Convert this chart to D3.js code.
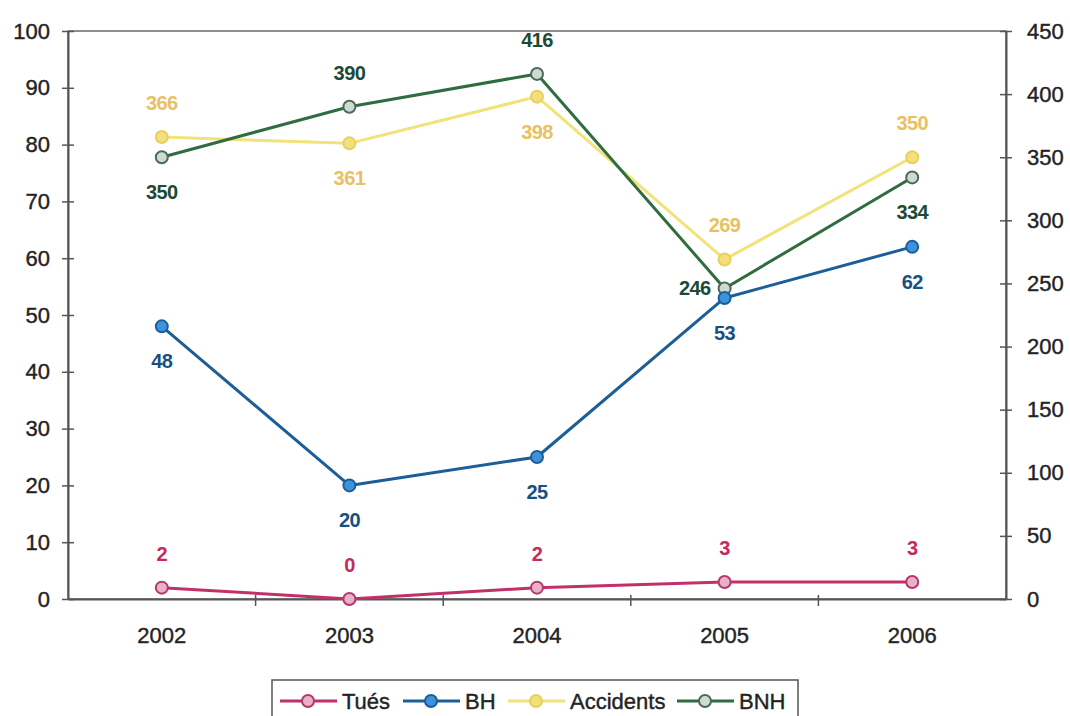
<!DOCTYPE html>
<html>
<head>
<meta charset="utf-8">
<script src="https://cdn.jsdelivr.net/npm/d3@7"></script>
<style>
  html, body { margin: 0; padding: 0; background: #fff; }
  svg { display: block; font-family: "Liberation Sans", Arial, sans-serif; }
</style>
</head>
<body>
<svg id="chart" width="1070" height="716"></svg>
<script>
// Yearly figures
const years = ["2002", "2003", "2004", "2005", "2006"];
const tues = [2, 0, 2, 3, 3];               // left axis
const bh = [48, 20, 25, 53, 62];            // left axis
const accidents = [366, 361, 398, 269, 350]; // right axis
const bnh = [350, 390, 416, 246, 334];       // right axis

const leftTicks = [0, 10, 20, 30, 40, 50, 60, 70, 80, 90, 100];
const rightTicks = [0, 50, 100, 150, 200, 250, 300, 350, 400, 450];

// label placement per point: "above", "below", "left"
const tuesPos = ["above", "above", "above", "above", "above"];
const bhPos = ["below", "below", "below", "below", "below"];
const accPos = ["above", "below", "below", "above", "above"];
const bnhPos = ["below", "above", "above", "left", "below"];

const svg = d3.select("#chart");
const plotL = 68, plotR = 1006, plotT = 31, plotB = 599;

const x = d3.scaleBand().domain(years).range([plotL, plotR]);
const yL = d3.scaleLinear().domain([0, 100]).range([plotB, plotT]);
const yR = d3.scaleLinear().domain([0, 450]).range([plotB, plotT]);

const axisColor = "#555";
const textColor = "#232323";
const axisFont = 22;

// frame of the plot area
svg.append("rect")
  .attr("x", plotL).attr("y", plotT)
  .attr("width", plotR - plotL).attr("height", plotB - plotT)
  .attr("fill", "none").attr("stroke", "#6a6a6a").attr("stroke-width", 1.5);

// left axis
const gL = svg.append("g").attr("transform", `translate(${plotL},0)`)
  .call(d3.axisLeft(yL).tickValues(leftTicks).tickSizeInner(6).tickSizeOuter(0).tickPadding(12));
// right axis
const gR = svg.append("g").attr("transform", `translate(${plotR},0)`)
  .call(d3.axisRight(yR).tickValues(rightTicks).tickSizeInner(6).tickSizeOuter(0).tickPadding(15));

[gL, gR].forEach(g => {
  g.select(".domain").attr("stroke", axisColor).attr("stroke-width", 2);
  g.selectAll(".tick line").attr("stroke", axisColor).attr("stroke-width", 1.5);
  g.selectAll(".tick text").attr("fill", textColor).attr("font-size", axisFont)
    .attr("stroke", textColor).attr("stroke-width", 0.4);
});
// ticks cross the axis line
gL.selectAll(".tick line").attr("x1", 6).attr("x2", -6);
gR.selectAll(".tick line").attr("x1", -6).attr("x2", 6);

// bottom axis
const gB = svg.append("g").attr("transform", `translate(0,${plotB})`)
  .call(d3.axisBottom(x).tickSize(0).tickPadding(28));
gB.select(".domain").attr("stroke", axisColor).attr("stroke-width", 2);
gB.selectAll(".tick text").attr("fill", textColor).attr("font-size", axisFont)
  .attr("stroke", textColor).attr("stroke-width", 0.4);
// category separators
const bounds = years.slice(1).map(d => x(d));
gB.selectAll("line.sep").data(bounds).enter().append("line")
  .attr("class", "sep")
  .attr("x1", d => d).attr("x2", d => d)
  .attr("y1", -4).attr("y2", 7)
  .attr("stroke", axisColor).attr("stroke-width", 1.5);

const cx = d => x(d) + x.bandwidth() / 2;

const series = [
  { name: "Tués", values: tues, scale: yL, line: "#c2306a", fill: "#eab0cb", stroke: "#b03a6a", label: "#c62a5c", pos: tuesPos },
  { name: "BH", values: bh, scale: yL, line: "#1c5e98", fill: "#3c93dc", stroke: "#1c5e98", label: "#19507f", pos: bhPos },
  { name: "Accidents", values: accidents, scale: yR, line: "#f1e27a", fill: "#f3e07a", stroke: "#e8d060", label: "#e8c163", pos: accPos },
  { name: "BNH", values: bnh, scale: yR, line: "#2f6c40", fill: "#cddbd2", stroke: "#4c6a58", label: "#1b4a36", pos: bnhPos }
];

// draw in order: Tués, Accidents, BNH, BH on top
const drawOrder = [0, 2, 3, 1];
drawOrder.forEach(i => {
  const s = series[i];
  const pts = years.map((yr, k) => ({ yr, v: s.values[k], pos: s.pos[k] }));
  const line = d3.line().x(d => cx(d.yr)).y(d => s.scale(d.v));
  svg.append("path").datum(pts)
    .attr("d", line)
    .attr("fill", "none")
    .attr("stroke", s.line)
    .attr("stroke-width", 3)
    .attr("stroke-linejoin", "round");
  svg.append("g").selectAll("circle").data(pts).enter().append("circle")
    .attr("cx", d => cx(d.yr))
    .attr("cy", d => s.scale(d.v))
    .attr("r", 6)
    .attr("fill", s.fill)
    .attr("stroke", s.stroke)
    .attr("stroke-width", 2);
  s.pts = pts;
});

// value labels
series.forEach(s => {
  svg.append("g").selectAll("text").data(s.pts).enter().append("text")
    .attr("x", d => d.pos === "left" ? cx(d.yr) - 14 : cx(d.yr))
    .attr("y", d => {
      const py = s.scale(d.v);
      if (d.pos === "above") return py - 27;
      if (d.pos === "below") return py + 42;
      return py + 7;
    })
    .attr("text-anchor", d => d.pos === "left" ? "end" : "middle")
    .attr("font-size", 20)
    .attr("font-weight", "bold")
    .attr("letter-spacing", -0.6)
    .attr("fill", s.label)
    .text(d => d.v);
});

// legend
const lg = svg.append("g");
lg.append("rect")
  .attr("x", 272).attr("y", 680).attr("width", 526).attr("height", 44)
  .attr("fill", "#fff").attr("stroke", "#555").attr("stroke-width", 1.5);
const legendX = [280, 403, 508, 677];
series.forEach((s, i) => {
  const x0 = legendX[i];
  const item = lg.append("g").attr("transform", `translate(${x0},701)`);
  item.append("line").attr("x1", 0).attr("x2", 57).attr("y1", 0).attr("y2", 0)
    .attr("stroke", s.line).attr("stroke-width", 3);
  item.append("circle").attr("cx", 28).attr("cy", 0).attr("r", 6)
    .attr("fill", s.fill).attr("stroke", s.stroke).attr("stroke-width", 2);
  item.append("text").attr("x", 62).attr("y", 8)
    .attr("font-size", 22).attr("fill", textColor)
    .attr("stroke", textColor).attr("stroke-width", 0.4)
    .text(s.name);
});
</script>
</body>
</html>
